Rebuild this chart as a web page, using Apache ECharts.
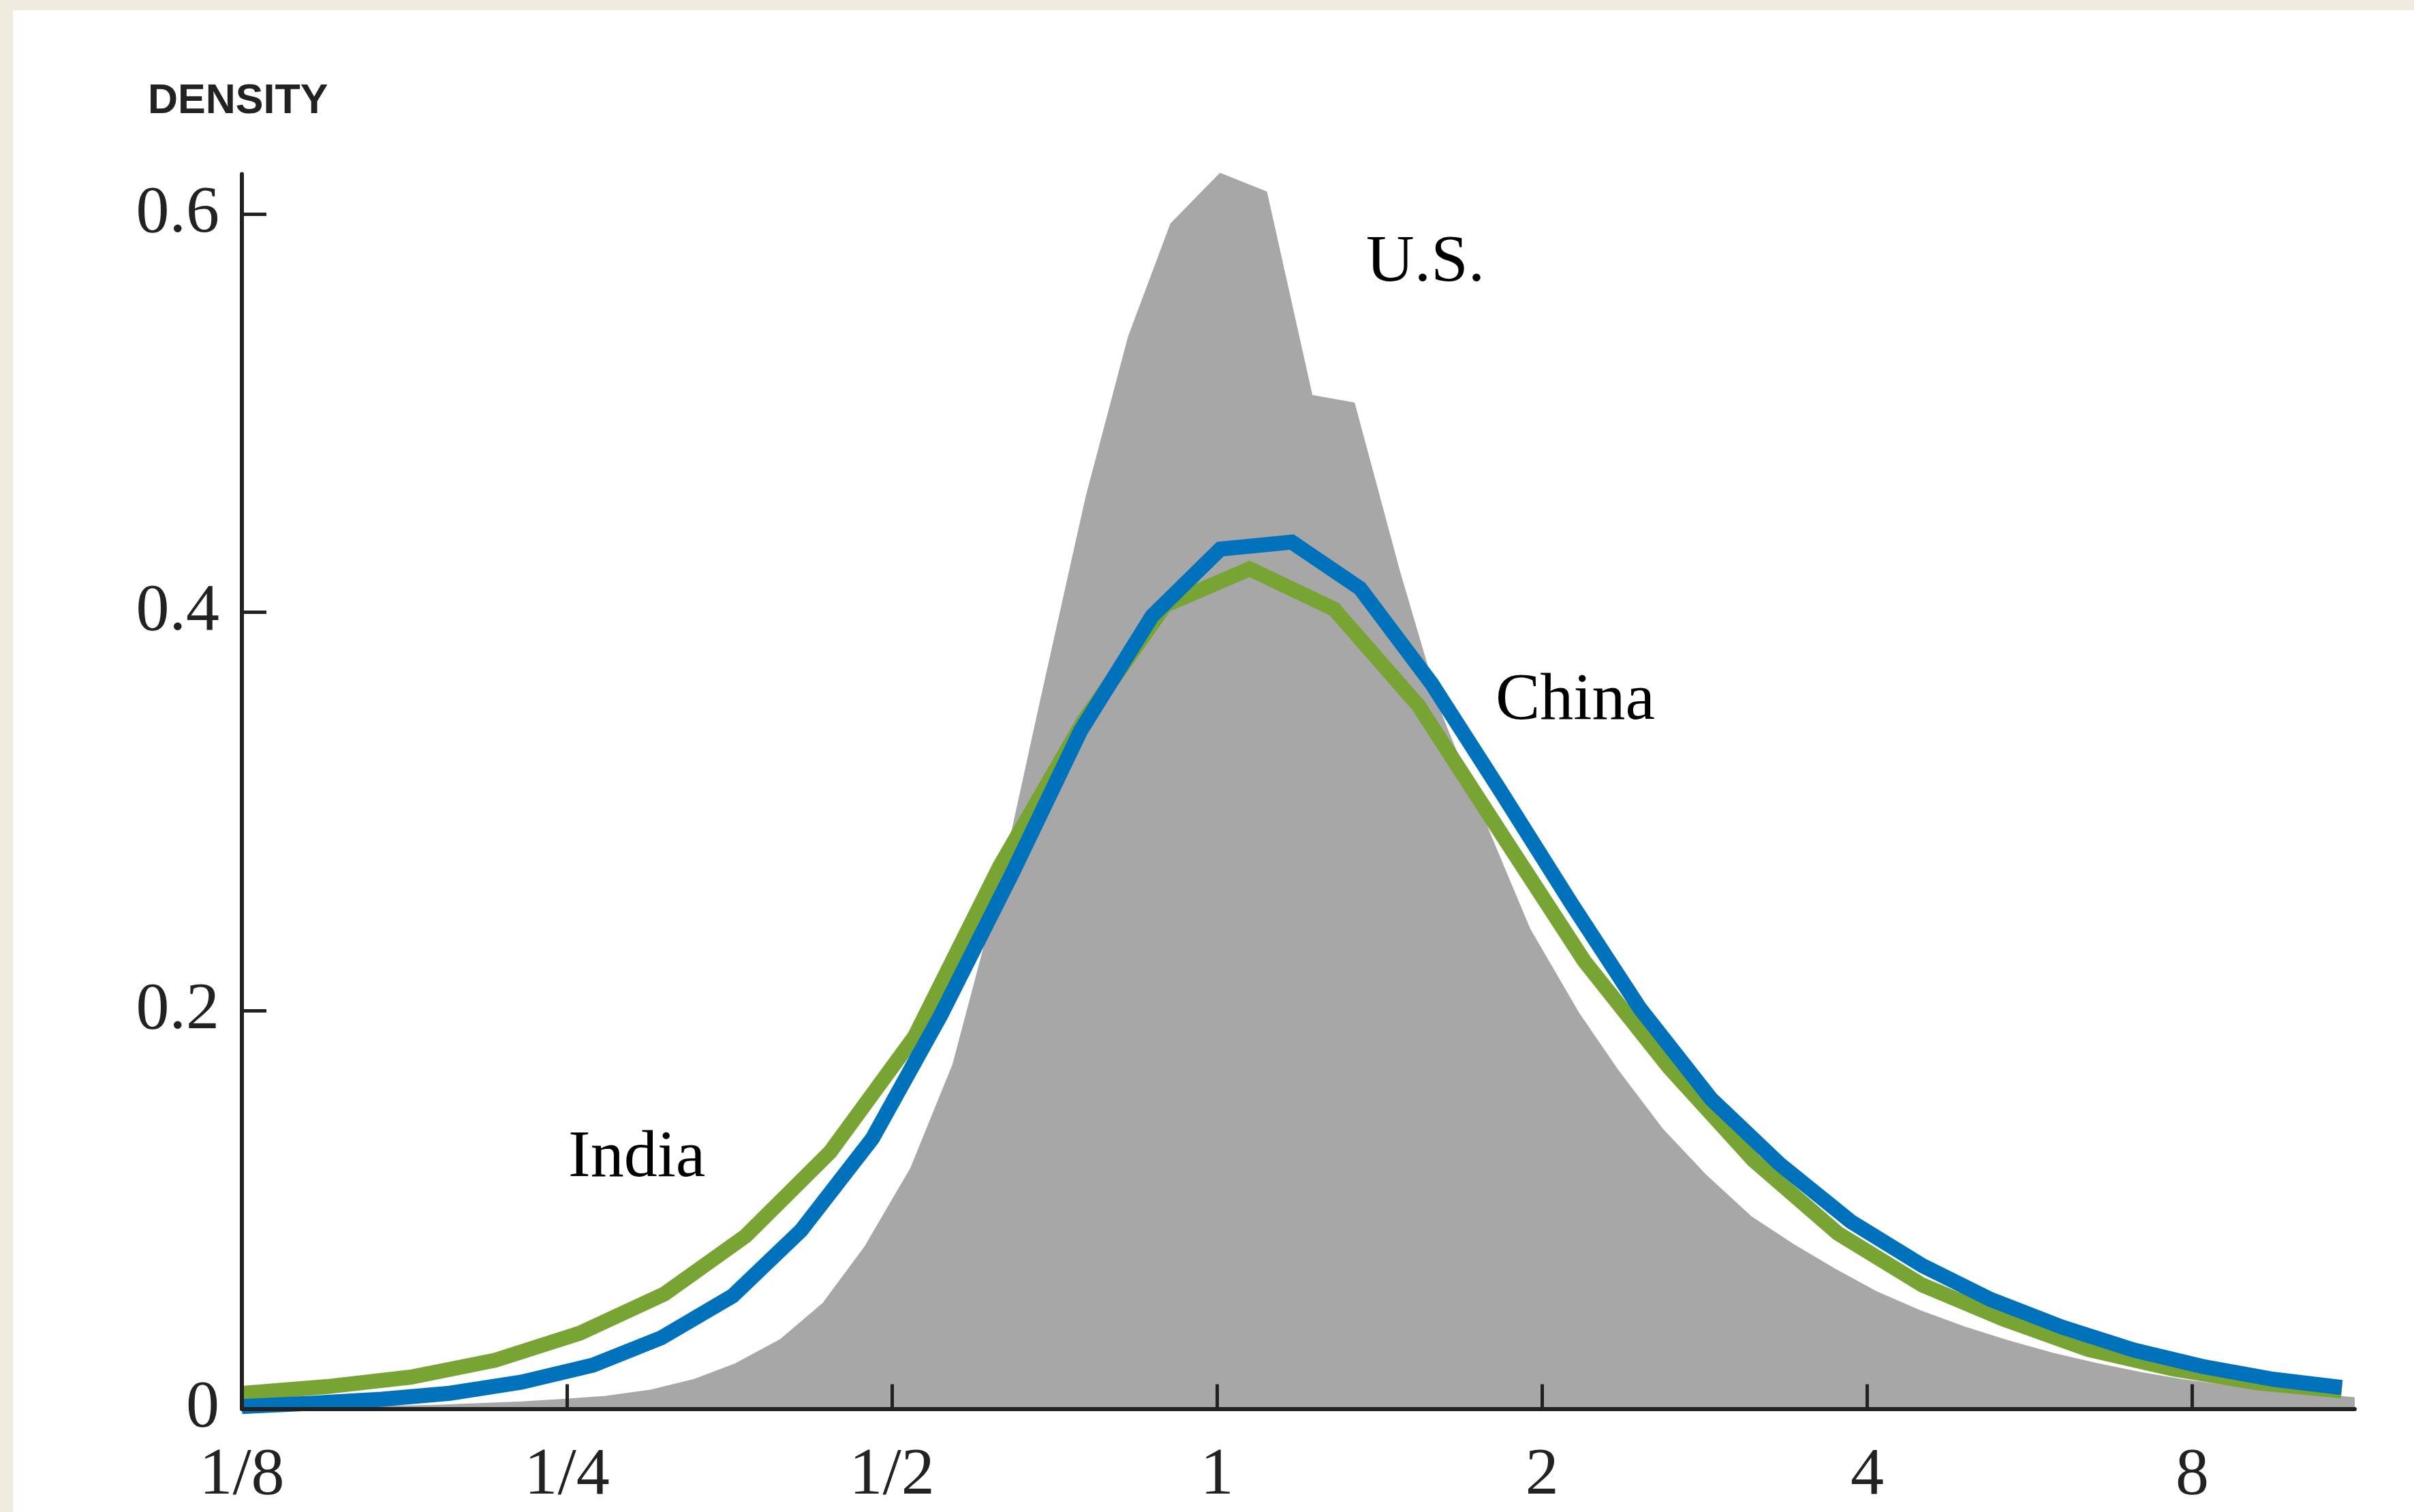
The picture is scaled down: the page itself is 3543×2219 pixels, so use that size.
<!DOCTYPE html>
<html>
<head>
<meta charset="utf-8">
<script src="https://cdn.jsdelivr.net/npm/echarts@6/dist/echarts.min.js"></script>
<style>
  html, body { margin: 0; padding: 0; width: 3543px; height: 2219px; background: #efebdf; overflow: hidden; }
  #chart { position: absolute; left: 19px; top: 15px; width: 3524px; height: 2204px; background: #ffffff; }
</style>
</head>
<body>
<div id="chart"></div>
<script>
// x positions are log2 of the ratio (1/8 -> -3, 1 -> 0, 8 -> 3)
const xTickValues = [-3, -2, -1, 0, 1, 2, 3];
const xTickLabels = ['1/8', '1/4', '1/2', '1', '2', '4', '8'];
const yTickValues = [0, 0.2, 0.4, 0.6];
const yTickLabels = ['0', '0.2', '0.4', '0.6'];

// U.S. (grey area)
const usX = [-3.00, -2.69, -2.42, -2.14, -2.01, -1.88, -1.74, -1.61, -1.48, -1.34, -1.21, -1.08, -0.94, -0.81,
             -0.67, -0.54, -0.40, -0.27, -0.14, 0.01, 0.15, 0.29, 0.42, 0.56, 0.69, 0.84, 0.96, 1.11, 1.23,
             1.37, 1.50, 1.64, 1.77, 1.90, 2.03, 2.16, 2.30, 2.43, 2.57, 2.70, 2.84, 2.97, 3.10, 3.23, 3.37, 3.50];
const usY = [0.000, 0.0004, 0.0012, 0.0030, 0.0043, 0.0058, 0.0090, 0.0142, 0.0222, 0.0346, 0.0527, 0.0814, 0.1205, 0.1727,
             0.259, 0.3557, 0.458, 0.5382, 0.5948, 0.6199, 0.6108, 0.5085, 0.5047, 0.4198, 0.3476, 0.2874, 0.2407, 0.1986, 0.170,
             0.1399, 0.1174, 0.0963, 0.0823, 0.0697, 0.0582, 0.049, 0.0406, 0.0339, 0.0275, 0.0225, 0.0178, 0.0142, 0.0114, 0.009, 0.007, 0.0051];

// China (blue line)
const chinaX = [-3.00, -2.79, -2.57, -2.36, -2.14, -1.92, -1.71, -1.49, -1.28, -1.06, -0.85, -0.63, -0.42, -0.20, 0.01, 0.23,
                0.44, 0.66, 0.87, 1.09, 1.30, 1.52, 1.73, 1.95, 2.17, 2.38, 2.60, 2.82, 3.03, 3.25, 3.46];
const chinaY = [0.0011, 0.0027, 0.0048, 0.0078, 0.0134, 0.0219, 0.0356, 0.0567, 0.0895, 0.1358, 0.1976, 0.2689, 0.3404, 0.3981, 0.4317, 0.4352,
                0.412, 0.3642, 0.3108, 0.2538, 0.2013, 0.1556, 0.123, 0.094, 0.0719, 0.0549, 0.041, 0.0295, 0.0213, 0.0148, 0.0107];

// India (green line)
const indiaX = [-3.00, -2.74, -2.48, -2.22, -1.96, -1.70, -1.45, -1.19, -0.93, -0.67, -0.41, -0.16, 0.10, 0.36,
                0.62, 0.88, 1.13, 1.39, 1.65, 1.91, 2.17, 2.42, 2.68, 2.94, 3.20, 3.46];
const indiaY = [0.0077, 0.0111, 0.0159, 0.0244, 0.038, 0.0577, 0.0868, 0.129, 0.187, 0.272, 0.3455, 0.4035, 0.4218, 0.4016,
                0.353, 0.2874, 0.2248, 0.1715, 0.1249, 0.0881, 0.0621, 0.045, 0.0298, 0.020, 0.0131, 0.009];

const zip = (xs, ys) => xs.map((x, i) => [x, ys[i]]);

const GREY = '#a7a7a7';
const BLUE = '#0072bc';
const GREEN = '#77a433';
const INK = '#222222';
const SERIF = '"Liberation Serif", "Times New Roman", serif';

const chart = echarts.init(document.getElementById('chart'), null, { renderer: 'canvas' });
chart.setOption({
  animation: false,
  backgroundColor: '#ffffff',
  grid: { left: 336, right: 87, top: 240.6, bottom: 151.5, containLabel: false },
  xAxis: {
    type: 'value', min: -3, max: 3.5, z: 10,
    axisLine: { show: true, onZero: false, lineStyle: { color: INK, width: 6 } },
    axisTick: { show: true, inside: true, length: 36, customValues: xTickValues, lineStyle: { color: INK, width: 5 } },
    axisLabel: {
      show: true, margin: 50, customValues: xTickValues,
      formatter: v => xTickLabels[xTickValues.indexOf(Math.round(v))],
      fontFamily: SERIF, fontSize: 98, color: INK
    },
    splitLine: { show: false }
  },
  yAxis: {
    type: 'value', min: 0, max: 0.62, z: 10,
    axisLine: { show: true, onZero: false, lineStyle: { color: INK, width: 6 } },
    axisTick: { show: true, inside: true, length: 36, customValues: yTickValues, lineStyle: { color: INK, width: 5 } },
    axisLabel: {
      show: true, margin: 33, customValues: yTickValues,
      formatter: v => yTickLabels[yTickValues.indexOf(Math.round(v * 10) / 10)],
      fontFamily: SERIF, fontSize: 98, color: INK
    },
    splitLine: { show: false }
  },
  series: [
    {
      name: 'U.S.', type: 'line', data: zip(usX, usY), showSymbol: false, symbol: 'none', z: 1,
      lineStyle: { color: GREY, width: 4, join: 'round' },
      areaStyle: { color: GREY, opacity: 1 },
      silent: true
    },
    {
      name: 'India', type: 'line', data: zip(indiaX, indiaY), showSymbol: false, symbol: 'none', z: 2, clip: false,
      lineStyle: { color: GREEN, width: 22, join: 'miter', cap: 'butt' },
      silent: true
    },
    {
      name: 'China', type: 'line', data: zip(chinaX, chinaY), showSymbol: false, symbol: 'none', z: 3, clip: false,
      lineStyle: { color: BLUE, width: 22, join: 'miter', cap: 'butt' },
      silent: true
    }
  ],
  graphic: [
    { type: 'text', x: 198, y: 104, z: 20, style: { text: 'DENSITY', font: 'bold 61px "Liberation Sans", Arial, sans-serif', fill: INK } },
    { type: 'text', x: 1986, y: 322, z: 20, style: { text: 'U.S.', font: '98px ' + SERIF, fill: '#000000' } },
    { type: 'text', x: 2176, y: 965, z: 20, style: { text: 'China', font: '98px ' + SERIF, fill: '#000000' } },
    { type: 'text', x: 815, y: 1636, z: 20, style: { text: 'India', font: '98px ' + SERIF, fill: '#000000' } }
  ]
});
</script>
</body>
</html>
